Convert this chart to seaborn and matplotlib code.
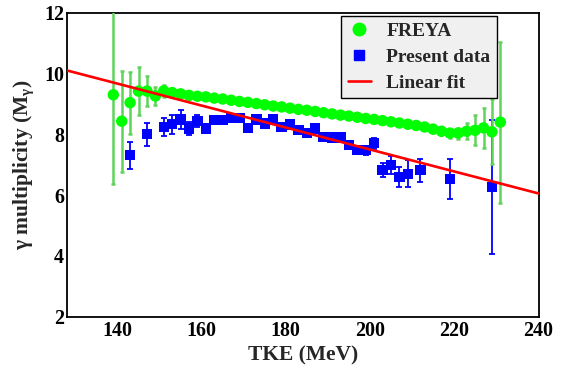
import numpy as np
import pandas as pd
import matplotlib
matplotlib.use("Agg")
import matplotlib.pyplot as plt
from matplotlib.lines import Line2D
from matplotlib.ticker import MultipleLocator
import seaborn as sns

# FREYA calculation: gamma multiplicity vs total kinetic energy
freya_tke = [139, 141, 143, 145, 147, 149, 151, 153, 155, 157, 159, 161, 163, 165,
             167, 169, 171, 173, 175, 177, 179, 181, 183, 185, 187, 189, 191, 193,
             195, 197, 199, 201, 203, 205, 207, 209, 211, 213, 215, 217, 219, 221,
             223, 225, 227, 229, 231]
freya_m = [9.30, 8.43, 9.04, 9.42, 9.42, 9.26, 9.43, 9.37, 9.33, 9.28, 9.25, 9.23,
           9.19, 9.16, 9.12, 9.08, 9.05, 9.01, 8.97, 8.93, 8.90, 8.86, 8.82, 8.79,
           8.75, 8.71, 8.67, 8.63, 8.60, 8.56, 8.52, 8.49, 8.45, 8.41, 8.37, 8.33,
           8.29, 8.24, 8.17, 8.10, 8.04, 8.04, 8.10, 8.13, 8.21, 8.08, 8.40]
freya_err = [2.95, 1.66, 1.02, 0.78, 0.49, 0.30, 0.20, 0.15, 0.12, 0.10, 0.10, 0.09,
             0.09, 0.09, 0.09, 0.09, 0.09, 0.09, 0.09, 0.09, 0.09, 0.09, 0.09, 0.09,
             0.09, 0.09, 0.09, 0.09, 0.09, 0.09, 0.09, 0.10, 0.10, 0.10, 0.10, 0.10,
             0.11, 0.11, 0.12, 0.13, 0.15, 0.18, 0.27, 0.49, 0.66, 1.07, 2.65]

# Measured gamma multiplicity
data_tke = [143, 147, 151, 153, 155, 157, 159, 161, 163, 165, 167, 169, 171, 173,
            175, 177, 179, 181, 183, 185, 187, 189, 191, 193, 195, 197, 199, 201,
            203, 205, 207, 209, 212, 219, 229]
data_m = [7.31, 8.00, 8.24, 8.33, 8.48, 8.19, 8.43, 8.19, 8.46, 8.46, 8.53, 8.53,
          8.21, 8.48, 8.35, 8.48, 8.24, 8.32, 8.15, 8.04, 8.19, 7.91, 7.89, 7.89,
          7.64, 7.48, 7.48, 7.71, 6.83, 6.98, 6.59, 6.70, 6.82, 6.53, 6.27]
data_err = [0.45, 0.38, 0.31, 0.32, 0.31, 0.22, 0.20, 0.15, 0.13, 0.12, 0.12, 0.12,
            0.11, 0.11, 0.11, 0.11, 0.11, 0.11, 0.11, 0.11, 0.12, 0.12, 0.12, 0.13,
            0.13, 0.14, 0.15, 0.18, 0.23, 0.30, 0.33, 0.45, 0.38, 0.65, 2.20]

# Linear fit to the measured points
fit_intercept = 14.72
fit_slope = -0.0361
fit_tke = [128, 240.2]

x_ticks = [140, 160, 180, 200, 220, 240]
y_ticks = [2, 4, 6, 8, 10, 12]

sns.set_style("white")
serif = ["Liberation Serif", "DejaVu Serif"]
plt.rcParams["font.family"] = serif
plt.rcParams["font.weight"] = "bold"
plt.rcParams["mathtext.fontset"] = "custom"
plt.rcParams["mathtext.rm"] = "Liberation Serif:bold"
plt.rcParams["mathtext.it"] = "Liberation Serif:bold"
plt.rcParams["mathtext.bf"] = "Liberation Serif:bold"

freya = pd.DataFrame({"tke": freya_tke, "m": freya_m, "err": freya_err})
data = pd.DataFrame({"tke": data_tke, "m": data_m, "err": data_err})
fit = pd.DataFrame({"tke": fit_tke,
                    "m": [fit_intercept + fit_slope * t for t in fit_tke]})

GREEN = "#00ff00"
GREEN_BAR = "#5fd35a"
BLUE = "#0000ff"
RED = "#ff0000"

fig = plt.figure(figsize=(5.68, 3.73), dpi=100)
ax = fig.add_axes([0.118, 0.151, 0.831, 0.815])

# measured points
ax.errorbar(data["tke"], data["m"], yerr=data["err"], fmt="none",
            ecolor=BLUE, elinewidth=1.3, capsize=2.0, capthick=1.3, zorder=2)
sns.scatterplot(data=data, x="tke", y="m", marker="s", s=56, color=BLUE,
                edgecolor="none", linewidth=0, ax=ax, zorder=3, legend=False)

# FREYA
ax.errorbar(freya["tke"], freya["m"], yerr=freya["err"], fmt="none",
            ecolor=GREEN_BAR, elinewidth=1.8, capsize=1.2, capthick=1.8, zorder=4)
sns.scatterplot(data=freya, x="tke", y="m", marker="o", s=68, color=GREEN,
                edgecolor="none", linewidth=0, ax=ax, zorder=5, legend=False)

# fit line
sns.lineplot(data=fit, x="tke", y="m", color=RED, linewidth=1.9, ax=ax,
             zorder=6, legend=False)

ax.set_xlim(128, 240.2)
ax.set_ylim(2, 12)
ax.set_xticks(x_ticks)
ax.set_yticks(y_ticks)
ax.xaxis.set_minor_locator(MultipleLocator(5))
ax.yaxis.set_minor_locator(MultipleLocator(0.5))
ax.tick_params(axis="both", which="both", direction="in", top=False, right=False,
               colors="black", labelsize=14.4)
ax.tick_params(axis="x", which="major", length=7, width=1.0, pad=3)
ax.tick_params(axis="x", which="minor", length=3.5, width=1.0)
ax.tick_params(axis="y", which="major", length=10, width=1.0, pad=2)
ax.tick_params(axis="y", which="minor", length=5, width=1.0)
for lab in ax.get_xticklabels() + ax.get_yticklabels():
    lab.set_fontweight("bold")
for sp in ax.spines.values():
    sp.set_color("black")
    sp.set_linewidth(1.3)

ax.set_xlabel("TKE (MeV)", fontsize=15.5, fontweight="bold", labelpad=3)
ax.set_ylabel(r"γ multiplicity (M$_{\mathrm{γ}}$)", fontsize=15.5,
              fontweight="bold", labelpad=6)

handles = [
    Line2D([], [], marker="o", linestyle="none", color=GREEN, markersize=9),
    Line2D([], [], marker="s", linestyle="none", color=BLUE, markersize=7.5),
    Line2D([], [], color=RED, linewidth=1.9),
]
leg = ax.legend(handles, ["FREYA", "Present data", "Linear fit"],
                loc="upper left", bbox_to_anchor=(0.58, 0.99),
                prop={"family": serif, "weight": "bold", "size": 14},
                frameon=True, fancybox=False, framealpha=1, borderpad=0.35,
                handlelength=1.2, handletextpad=0.8, labelspacing=0.42,
                borderaxespad=0)
leg.get_frame().set_facecolor("#f0f0f0")
leg.get_frame().set_edgecolor("black")
leg.get_frame().set_linewidth(1.0)
leg.set_zorder(10)

fig.savefig("out.png", dpi=100)
